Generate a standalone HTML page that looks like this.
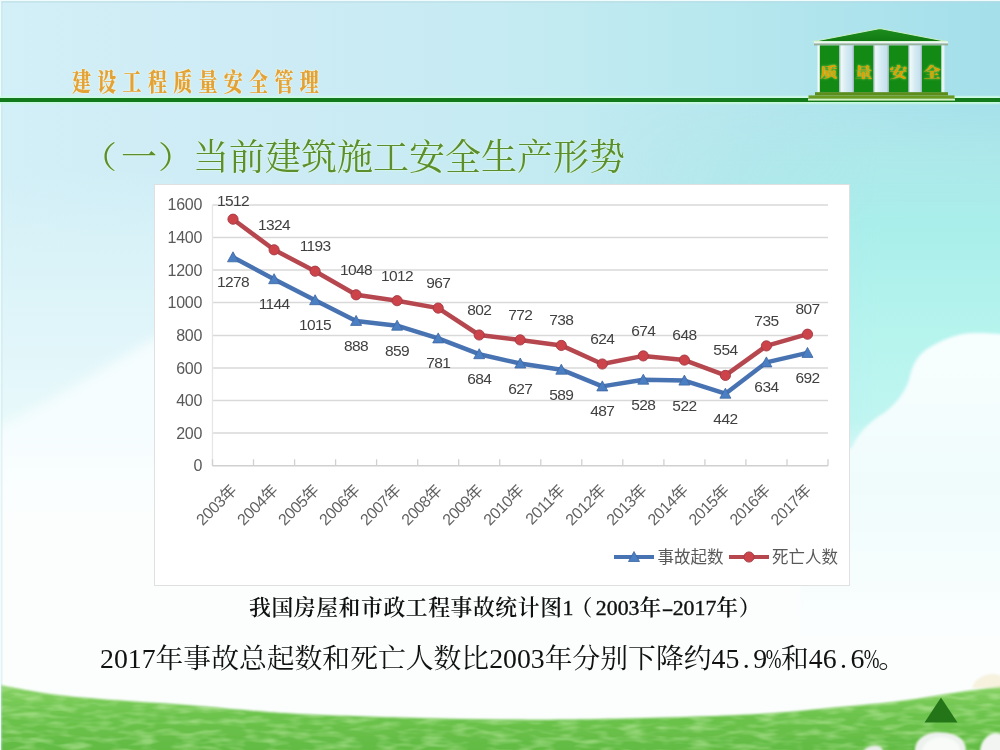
<!DOCTYPE html>
<html><head><meta charset="utf-8">
<style>
*{margin:0;padding:0;box-sizing:border-box}
html,body{width:1000px;height:750px;overflow:hidden;background:#fff}
body{position:relative;font-family:"Liberation Sans","Noto Sans CJK SC",sans-serif}
.abs{position:absolute}
#bg{position:absolute;left:0;top:0}
#hdr{position:absolute;left:72px;top:69.5px;font-family:"Liberation Serif","Noto Serif CJK SC",serif;font-weight:900;font-size:19px;letter-spacing:6.3px;color:#e3a236;white-space:nowrap;transform:scaleY(1.32);transform-origin:0 0;line-height:1;
 text-shadow:0 0 1.5px #fffbe0,0 0 1px #fffde8}
#gline{position:absolute;left:0;top:98px;width:1000px;height:4px;background:#137a1c;box-shadow:0 -2px 1.5px #cffbe6,0 2px 1.5px #c8f8e0}
#title{position:absolute;left:85px;top:140px;font-family:"Liberation Serif","Noto Serif CJK SC",serif;font-size:36px;color:#5b8f2d;white-space:nowrap;line-height:1;text-shadow:0 0 2px #e6ffdc,0 0 1px #f0fff0}
#chartbox{position:absolute;left:154px;top:184px;width:696px;height:402px;background:#fff;border:1.5px solid #e0e0e0}
#chart{position:absolute;left:0;top:0}
.yl{font-family:"Liberation Sans",sans-serif;font-size:16px;fill:#595959;letter-spacing:-0.3px}
.dl{font-family:"Liberation Sans",sans-serif;font-size:15.5px;fill:#404040;letter-spacing:-0.6px}
.xl{font-family:"Liberation Sans","Noto Sans CJK SC",sans-serif;font-size:16px;fill:#626262;letter-spacing:-0.5px}
.lg{font-family:"Liberation Sans","Noto Sans CJK SC",sans-serif;font-size:16.5px;fill:#595959}
#cap{position:absolute;left:249px;top:598px;letter-spacing:0.6px;font-family:"Liberation Serif","Noto Serif CJK SC",serif;font-size:21.8px;font-weight:600;color:#111;white-space:nowrap;line-height:1}
#sum{position:absolute;left:100px;top:644.5px;font-family:"Liberation Serif","Noto Serif CJK SC",serif;font-size:27.8px;color:#111;white-space:nowrap;line-height:1}
.pl{display:inline-block;transform:translateX(-4px) scaleY(0.86)}
.pr{display:inline-block;transform:translateX(1px) scaleY(0.86)}
.h{display:inline-block;width:0.5em;text-align:center;font-weight:400}
#cap .h{-webkit-text-stroke:0.4px #111;letter-spacing:0}
.hy{display:inline-block;font-style:normal;transform:scaleX(1.6)}
#cap .pl2{display:inline-block;transform:translateX(-3px)}
.pc{display:inline-block;width:0.5em;text-align:center;font-weight:400}
.pc i{display:inline-block;font-style:normal;transform:scaleX(0.68);transform-origin:50% 50%;margin:0 -0.25em}
</style></head><body>
<svg id="bg" width="1000" height="750" viewBox="0 0 1000 750">
 <defs>
  <linearGradient id="skyx" x1="0" y1="0" x2="1000" y2="0" gradientUnits="userSpaceOnUse">
   <stop offset="0" stop-color="#d3eff7"/>
   <stop offset="0.3" stop-color="#ccebf5"/>
   <stop offset="0.5" stop-color="#c6ebf2"/>
   <stop offset="0.7" stop-color="#b9e8ef"/>
   <stop offset="0.96" stop-color="#a6e0eb"/>
   <stop offset="1" stop-color="#a5dfea"/>
  </linearGradient>
  <linearGradient id="aquaV" x1="0" y1="95" x2="0" y2="460" gradientUnits="userSpaceOnUse">
   <stop offset="0" stop-color="#aeeaea" stop-opacity="0"/>
   <stop offset="0.17" stop-color="#aeeaea" stop-opacity="0.8"/>
   <stop offset="0.35" stop-color="#a9eeea" stop-opacity="1"/>
   <stop offset="0.65" stop-color="#b6f4ee" stop-opacity="1"/>
   <stop offset="1" stop-color="#c4f6f2" stop-opacity="1"/>
  </linearGradient>
  <linearGradient id="aquaMaskG" x1="600" y1="0" x2="880" y2="0" gradientUnits="userSpaceOnUse">
   <stop offset="0" stop-color="#fff" stop-opacity="0"/>
   <stop offset="1" stop-color="#fff" stop-opacity="1"/>
  </linearGradient>
  <mask id="aquaMask"><rect x="0" y="0" width="1000" height="750" fill="url(#aquaMaskG)"/></mask>
  <linearGradient id="leftV" x1="0" y1="170" x2="0" y2="420" gradientUnits="userSpaceOnUse">
   <stop offset="0" stop-color="#daf3f8" stop-opacity="0"/>
   <stop offset="0.36" stop-color="#daf3f8" stop-opacity="1"/>
   <stop offset="0.64" stop-color="#e0f5fa" stop-opacity="1"/>
   <stop offset="1" stop-color="#e8f9fa" stop-opacity="1"/>
  </linearGradient>
  <linearGradient id="lowV" x1="0" y1="420" x2="0" y2="520" gradientUnits="userSpaceOnUse">
   <stop offset="0" stop-color="#fcfefe" stop-opacity="0"/>
   <stop offset="1" stop-color="#fcfefe" stop-opacity="1"/>
  </linearGradient>
  <linearGradient id="cloudR" x1="0" y1="330" x2="0" y2="640" gradientUnits="userSpaceOnUse">
   <stop offset="0" stop-color="#f8fefe"/>
   <stop offset="0.5" stop-color="#f0fcfc"/>
   <stop offset="0.75" stop-color="#f5fdfd"/>
   <stop offset="1" stop-color="#fcfefe"/>
  </linearGradient>
  <linearGradient id="grass" x1="0" y1="684" x2="0" y2="750" gradientUnits="userSpaceOnUse">
   <stop offset="0" stop-color="#a4dc86"/>
   <stop offset="0.12" stop-color="#80ce5e"/>
   <stop offset="0.45" stop-color="#6ec44e"/>
   <stop offset="1" stop-color="#62bb43"/>
  </linearGradient>
  <filter id="grassTex" x="0" y="0" width="100%" height="100%">
   <feTurbulence type="fractalNoise" baseFrequency="0.045 0.16" numOctaves="2" seed="7" result="n"/>
   <feColorMatrix in="n" type="matrix" values="0 0 0 0 0.60  0 0 0 0 0.88  0 0 0 0 0.44  0 0 0 2.4 -1.0" result="c"/>
   <feComposite in="c" in2="SourceGraphic" operator="in"/>
  </filter>
  <filter id="blur6" x="-20%" y="-20%" width="140%" height="140%"><feGaussianBlur stdDeviation="6"/></filter>
  <filter id="blur2" x="-5%" y="-20%" width="110%" height="140%"><feGaussianBlur stdDeviation="2.2"/></filter>
  <filter id="blur1"><feGaussianBlur stdDeviation="1"/></filter>
  <filter id="blur15" x="-5%" y="-5%" width="110%" height="110%"><feGaussianBlur stdDeviation="1.5"/></filter>
 </defs>
 <rect width="1000" height="750" fill="url(#skyx)"/>
 <rect x="0" y="95" width="1000" height="365" fill="url(#aquaV)" mask="url(#aquaMask)"/>
 <rect x="0" y="170" width="175" height="590" fill="url(#leftV)"/>
 <path d="M175,328 C130,350 70,392 -10,432 L-10,760 L175,760 Z" fill="#f5fdfe" filter="url(#blur6)"/>
 <rect x="0" y="420" width="1000" height="330" fill="url(#lowV)"/>
 <path d="M852,448 C858,432 872,420 884,413 C896,404 905,392 909,380 C912,366 916,357 927,349 C942,340 956,333 975,333 C990,333 1002,334 1010,335 L1010,700 L800,700 L800,470 Z" fill="url(#cloudR)" filter="url(#blur15)"/>
 <path d="M-5,684.5 C-4.2,684.6 -9.2,683.4 0,685 C9.2,686.6 33.3,691.7 50,694 C66.7,696.3 78.3,697.2 100,699 C121.7,700.8 155.0,702.6 180,704.5 C205.0,706.4 230.0,708.9 250,710.5 C270.0,712.1 275.0,712.8 300,714 C325.0,715.2 366.7,716.6 400,717.5 C433.3,718.4 466.7,719.2 500,719.5 C533.3,719.8 558.3,719.8 600,719 C641.7,718.2 710.0,716.5 750,714.5 C790.0,712.5 815.0,709.2 840,707 C865.0,704.8 880.0,703.5 900,701 C920.0,698.5 943.3,694.4 960,692 C976.7,689.6 992.5,687.6 1000,686.5 C1007.5,685.4 1004.2,685.7 1005,685.5 L1005,755 L-5,755 Z" fill="url(#grass)" filter="url(#blur1)"/>
 <path d="M-5,684.5 C-4.2,684.6 -9.2,683.4 0,685 C9.2,686.6 33.3,691.7 50,694 C66.7,696.3 78.3,697.2 100,699 C121.7,700.8 155.0,702.6 180,704.5 C205.0,706.4 230.0,708.9 250,710.5 C270.0,712.1 275.0,712.8 300,714 C325.0,715.2 366.7,716.6 400,717.5 C433.3,718.4 466.7,719.2 500,719.5 C533.3,719.8 558.3,719.8 600,719 C641.7,718.2 710.0,716.5 750,714.5 C790.0,712.5 815.0,709.2 840,707 C865.0,704.8 880.0,703.5 900,701 C920.0,698.5 943.3,694.4 960,692 C976.7,689.6 992.5,687.6 1000,686.5 C1007.5,685.4 1004.2,685.7 1005,685.5 L1005,755 L-5,755 Z" fill="#000" filter="url(#grassTex)" opacity="0.45"/>
 <g filter="url(#blur1)">
  <path d="M915,752 C914,742 922,734 934,732.5 C946,731.5 958,734 963,741 C966,745 966,750 966,752 Z" fill="#eef2ee"/>
  <path d="M922,752 C922,744 930,738 940,737 C950,737 958,741 960,748 L960,752 Z" fill="#f8fbf8"/>
  <path d="M980,752 C980,742 987,734 995,733 C999,733 1002,734 1003,736 L1003,752 Z" fill="#f2f5f2"/>
  <path d="M863,752 C864,748 870,745.5 875,745.5 C880,745.5 883,748 883,752 Z" fill="#e8eee8"/>
  <path d="M972,688 C974,680 982,675 992,674 C998,674 1003,676 1003,680 L1003,688 Z" fill="#efe3b8" opacity="0.45"/>
 </g>
 <polygon points="941,697.5 957.5,722.5 924.5,722.5" fill="#247418"/>
 <rect x="0" y="0" width="1000" height="1.2" fill="#eefcfd"/>
 <rect x="0" y="1.2" width="1000" height="1.3" fill="#b8d6de" opacity="0.6"/>
 <rect x="0" y="0" width="1.2" height="750" fill="#eefcfd"/>
 <rect x="1.2" y="2" width="1.3" height="748" fill="#b8d6de" opacity="0.35"/>
</svg>
<div id="hdr">建设工程质量安全管理</div>
<div id="gline"></div>
<svg class="abs" style="left:800px;top:24px" width="165" height="80" viewBox="800 24 165 80">
 <defs>
  <linearGradient id="shaft" x1="0" y1="0" x2="1" y2="0">
   <stop offset="0" stop-color="#a8bcc0"/><stop offset="0.14" stop-color="#eef8f8"/><stop offset="0.45" stop-color="#d6ecf4"/><stop offset="0.85" stop-color="#c6e0ec"/><stop offset="1" stop-color="#98b0b8"/>
  </linearGradient>
  <linearGradient id="roofg" x1="0" y1="29" x2="0" y2="42" gradientUnits="userSpaceOnUse">
   <stop offset="0" stop-color="#1e8c1e"/><stop offset="1" stop-color="#0f7a12"/>
  </linearGradient>
  <filter id="tglow" x="-30%" y="-30%" width="160%" height="160%"><feGaussianBlur stdDeviation="0.9" result="b"/><feFlood flood-color="#d8f060" flood-opacity="0.9"/><feComposite in2="b" operator="in" result="g"/><feMerge><feMergeNode in="g"/><feMergeNode in="SourceGraphic"/></feMerge></filter>
 </defs>
 <polygon points="880,28.5 947,41.5 813,41.5" fill="url(#roofg)" stroke="#c8f0c8" stroke-width="1.2" stroke-linejoin="round"/>
 <rect x="814" y="41.5" width="134" height="2" fill="#eef6ee"/>
 <rect x="814" y="43.5" width="134" height="2" fill="#9ab09a"/>
 <rect x="817.5" y="45.5" width="2.5" height="47" fill="#f4fafa"/>
 <rect x="819.8" y="45.5" width="19.5" height="47" fill="#128a14"/>
 <rect x="839.3" y="45.5" width="14.7" height="47" fill="url(#shaft)"/>
 <rect x="854" y="45.5" width="19.5" height="47" fill="#128a14"/>
 <rect x="873.5" y="45.5" width="15.5" height="47" fill="url(#shaft)"/>
 <rect x="889" y="45.5" width="19.5" height="47" fill="#128a14"/>
 <rect x="908.5" y="45.5" width="13.5" height="47" fill="url(#shaft)"/>
 <rect x="922" y="45.5" width="19.5" height="47" fill="#128a14"/>
 <rect x="941.5" y="45.5" width="3" height="47" fill="#e8f4f4"/>
 <rect x="815" y="92.2" width="133" height="3.2" fill="#5c8c1a"/>
 <rect x="808.5" y="95.4" width="146" height="3.3" fill="#6b9a22"/>
 <rect x="808" y="98.6" width="147" height="2" fill="#d4f2c4"/>
 <g font-family="'Liberation Serif','Noto Serif CJK SC',serif" font-size="18" font-weight="900" fill="#e0a000" text-anchor="middle" filter="url(#tglow)">
  <text x="829" y="77" transform="translate(0,77) scale(1,0.74) translate(0,-77)">质</text>
  <text x="863.5" y="77" transform="translate(0,77) scale(1,0.74) translate(0,-77)">量</text>
  <text x="898.5" y="77" transform="translate(0,77) scale(1,0.74) translate(0,-77)">安</text>
  <text x="932" y="77" transform="translate(0,77) scale(1,0.74) translate(0,-77)">全</text>
 </g>
</svg>
<div id="title"><span class="pl">（</span>一<span class="pr">）</span>当前建筑施工安全生产形势</div>
<div id="chartbox"></div>
<svg id="chart" width="1000" height="750" viewBox="0 0 1000 750">
<line x1="212.5" y1="433.0" x2="828.0" y2="433.0" stroke="#d9d9d9" stroke-width="1.3"/>
<line x1="212.5" y1="400.5" x2="828.0" y2="400.5" stroke="#d9d9d9" stroke-width="1.3"/>
<line x1="212.5" y1="368.0" x2="828.0" y2="368.0" stroke="#d9d9d9" stroke-width="1.3"/>
<line x1="212.5" y1="335.5" x2="828.0" y2="335.5" stroke="#d9d9d9" stroke-width="1.3"/>
<line x1="212.5" y1="302.5" x2="828.0" y2="302.5" stroke="#d9d9d9" stroke-width="1.3"/>
<line x1="212.5" y1="270.0" x2="828.0" y2="270.0" stroke="#d9d9d9" stroke-width="1.3"/>
<line x1="212.5" y1="237.5" x2="828.0" y2="237.5" stroke="#d9d9d9" stroke-width="1.3"/>
<line x1="212.5" y1="205.0" x2="828.0" y2="205.0" stroke="#d9d9d9" stroke-width="1.3"/>
<line x1="212.5" y1="204.8" x2="212.5" y2="465.8" stroke="#e6e6e6" stroke-width="1.3"/>
<line x1="212.5" y1="465.8" x2="828.0" y2="465.8" stroke="#d0d0d0" stroke-width="1.5"/>
<line x1="212.5" y1="459.3" x2="212.5" y2="465.8" stroke="#d0d0d0" stroke-width="1.3"/>
<line x1="253.5" y1="459.3" x2="253.5" y2="465.8" stroke="#d0d0d0" stroke-width="1.3"/>
<line x1="294.6" y1="459.3" x2="294.6" y2="465.8" stroke="#d0d0d0" stroke-width="1.3"/>
<line x1="335.6" y1="459.3" x2="335.6" y2="465.8" stroke="#d0d0d0" stroke-width="1.3"/>
<line x1="376.6" y1="459.3" x2="376.6" y2="465.8" stroke="#d0d0d0" stroke-width="1.3"/>
<line x1="417.7" y1="459.3" x2="417.7" y2="465.8" stroke="#d0d0d0" stroke-width="1.3"/>
<line x1="458.7" y1="459.3" x2="458.7" y2="465.8" stroke="#d0d0d0" stroke-width="1.3"/>
<line x1="499.7" y1="459.3" x2="499.7" y2="465.8" stroke="#d0d0d0" stroke-width="1.3"/>
<line x1="540.8" y1="459.3" x2="540.8" y2="465.8" stroke="#d0d0d0" stroke-width="1.3"/>
<line x1="581.8" y1="459.3" x2="581.8" y2="465.8" stroke="#d0d0d0" stroke-width="1.3"/>
<line x1="622.8" y1="459.3" x2="622.8" y2="465.8" stroke="#d0d0d0" stroke-width="1.3"/>
<line x1="663.9" y1="459.3" x2="663.9" y2="465.8" stroke="#d0d0d0" stroke-width="1.3"/>
<line x1="704.9" y1="459.3" x2="704.9" y2="465.8" stroke="#d0d0d0" stroke-width="1.3"/>
<line x1="745.9" y1="459.3" x2="745.9" y2="465.8" stroke="#d0d0d0" stroke-width="1.3"/>
<line x1="787.0" y1="459.3" x2="787.0" y2="465.8" stroke="#d0d0d0" stroke-width="1.3"/>
<line x1="828.0" y1="459.3" x2="828.0" y2="465.8" stroke="#d0d0d0" stroke-width="1.3"/>
<text x="202" y="471.4" text-anchor="end" class="yl">0</text>
<text x="202" y="438.8" text-anchor="end" class="yl">200</text>
<text x="202" y="406.2" text-anchor="end" class="yl">400</text>
<text x="202" y="373.5" text-anchor="end" class="yl">600</text>
<text x="202" y="340.9" text-anchor="end" class="yl">800</text>
<text x="202" y="308.3" text-anchor="end" class="yl">1000</text>
<text x="202" y="275.7" text-anchor="end" class="yl">1200</text>
<text x="202" y="243.0" text-anchor="end" class="yl">1400</text>
<text x="202" y="210.4" text-anchor="end" class="yl">1600</text>
<polyline points="233.0,257.3 274.1,279.2 315.1,300.2 356.1,320.9 397.1,325.7 438.2,338.4 479.2,354.2 520.2,363.5 561.3,369.7 602.3,386.4 643.3,379.7 684.4,380.6 725.4,393.7 766.4,362.4 807.5,352.9" fill="none" stroke="#4873b2" stroke-width="4.5" stroke-linejoin="round"/>
<polyline points="233.0,219.2 274.1,249.8 315.1,271.2 356.1,294.8 397.1,300.7 438.2,308.1 479.2,335.0 520.2,339.9 561.3,345.4 602.3,364.0 643.3,355.9 684.4,360.1 725.4,375.4 766.4,345.9 807.5,334.2" fill="none" stroke="#b6474f" stroke-width="4.5" stroke-linejoin="round"/>
<polygon points="227.5,261.8 238.5,261.8 233.0,251.8" fill="#4a7fc4" stroke="#3d64a0" stroke-width="0.8" stroke-linejoin="round"/>
<polygon points="268.6,283.7 279.6,283.7 274.1,273.7" fill="#4a7fc4" stroke="#3d64a0" stroke-width="0.8" stroke-linejoin="round"/>
<polygon points="309.6,304.7 320.6,304.7 315.1,294.7" fill="#4a7fc4" stroke="#3d64a0" stroke-width="0.8" stroke-linejoin="round"/>
<polygon points="350.6,325.4 361.6,325.4 356.1,315.4" fill="#4a7fc4" stroke="#3d64a0" stroke-width="0.8" stroke-linejoin="round"/>
<polygon points="391.6,330.2 402.6,330.2 397.1,320.2" fill="#4a7fc4" stroke="#3d64a0" stroke-width="0.8" stroke-linejoin="round"/>
<polygon points="432.7,342.9 443.7,342.9 438.2,332.9" fill="#4a7fc4" stroke="#3d64a0" stroke-width="0.8" stroke-linejoin="round"/>
<polygon points="473.7,358.7 484.7,358.7 479.2,348.7" fill="#4a7fc4" stroke="#3d64a0" stroke-width="0.8" stroke-linejoin="round"/>
<polygon points="514.8,368.0 525.8,368.0 520.2,358.0" fill="#4a7fc4" stroke="#3d64a0" stroke-width="0.8" stroke-linejoin="round"/>
<polygon points="555.8,374.2 566.8,374.2 561.3,364.2" fill="#4a7fc4" stroke="#3d64a0" stroke-width="0.8" stroke-linejoin="round"/>
<polygon points="596.8,390.9 607.8,390.9 602.3,380.9" fill="#4a7fc4" stroke="#3d64a0" stroke-width="0.8" stroke-linejoin="round"/>
<polygon points="637.8,384.2 648.8,384.2 643.3,374.2" fill="#4a7fc4" stroke="#3d64a0" stroke-width="0.8" stroke-linejoin="round"/>
<polygon points="678.9,385.1 689.9,385.1 684.4,375.1" fill="#4a7fc4" stroke="#3d64a0" stroke-width="0.8" stroke-linejoin="round"/>
<polygon points="719.9,398.2 730.9,398.2 725.4,388.2" fill="#4a7fc4" stroke="#3d64a0" stroke-width="0.8" stroke-linejoin="round"/>
<polygon points="760.9,366.9 771.9,366.9 766.4,356.9" fill="#4a7fc4" stroke="#3d64a0" stroke-width="0.8" stroke-linejoin="round"/>
<polygon points="802.0,357.4 813.0,357.4 807.5,347.4" fill="#4a7fc4" stroke="#3d64a0" stroke-width="0.8" stroke-linejoin="round"/>
<circle cx="233.0" cy="219.2" r="5.1" fill="#cc4349" stroke="#a33a44" stroke-width="0.9"/>
<circle cx="274.1" cy="249.8" r="5.1" fill="#cc4349" stroke="#a33a44" stroke-width="0.9"/>
<circle cx="315.1" cy="271.2" r="5.1" fill="#cc4349" stroke="#a33a44" stroke-width="0.9"/>
<circle cx="356.1" cy="294.8" r="5.1" fill="#cc4349" stroke="#a33a44" stroke-width="0.9"/>
<circle cx="397.1" cy="300.7" r="5.1" fill="#cc4349" stroke="#a33a44" stroke-width="0.9"/>
<circle cx="438.2" cy="308.1" r="5.1" fill="#cc4349" stroke="#a33a44" stroke-width="0.9"/>
<circle cx="479.2" cy="335.0" r="5.1" fill="#cc4349" stroke="#a33a44" stroke-width="0.9"/>
<circle cx="520.2" cy="339.9" r="5.1" fill="#cc4349" stroke="#a33a44" stroke-width="0.9"/>
<circle cx="561.3" cy="345.4" r="5.1" fill="#cc4349" stroke="#a33a44" stroke-width="0.9"/>
<circle cx="602.3" cy="364.0" r="5.1" fill="#cc4349" stroke="#a33a44" stroke-width="0.9"/>
<circle cx="643.3" cy="355.9" r="5.1" fill="#cc4349" stroke="#a33a44" stroke-width="0.9"/>
<circle cx="684.4" cy="360.1" r="5.1" fill="#cc4349" stroke="#a33a44" stroke-width="0.9"/>
<circle cx="725.4" cy="375.4" r="5.1" fill="#cc4349" stroke="#a33a44" stroke-width="0.9"/>
<circle cx="766.4" cy="345.9" r="5.1" fill="#cc4349" stroke="#a33a44" stroke-width="0.9"/>
<circle cx="807.5" cy="334.2" r="5.1" fill="#cc4349" stroke="#a33a44" stroke-width="0.9"/>
<text x="233.0" y="205.5" text-anchor="middle" class="dl">1512</text>
<text x="274.1" y="229.8" text-anchor="middle" class="dl">1324</text>
<text x="315.1" y="251.2" text-anchor="middle" class="dl">1193</text>
<text x="356.1" y="274.8" text-anchor="middle" class="dl">1048</text>
<text x="397.1" y="280.7" text-anchor="middle" class="dl">1012</text>
<text x="438.2" y="288.1" text-anchor="middle" class="dl">967</text>
<text x="479.2" y="315.0" text-anchor="middle" class="dl">802</text>
<text x="520.2" y="319.9" text-anchor="middle" class="dl">772</text>
<text x="561.3" y="325.4" text-anchor="middle" class="dl">738</text>
<text x="602.3" y="344.0" text-anchor="middle" class="dl">624</text>
<text x="643.3" y="335.9" text-anchor="middle" class="dl">674</text>
<text x="684.4" y="340.1" text-anchor="middle" class="dl">648</text>
<text x="725.4" y="355.4" text-anchor="middle" class="dl">554</text>
<text x="766.4" y="325.9" text-anchor="middle" class="dl">735</text>
<text x="807.5" y="314.2" text-anchor="middle" class="dl">807</text>
<text x="233.0" y="287.3" text-anchor="middle" class="dl">1278</text>
<text x="274.1" y="309.2" text-anchor="middle" class="dl">1144</text>
<text x="315.1" y="330.2" text-anchor="middle" class="dl">1015</text>
<text x="356.1" y="350.9" text-anchor="middle" class="dl">888</text>
<text x="397.1" y="355.7" text-anchor="middle" class="dl">859</text>
<text x="438.2" y="368.4" text-anchor="middle" class="dl">781</text>
<text x="479.2" y="384.2" text-anchor="middle" class="dl">684</text>
<text x="520.2" y="393.5" text-anchor="middle" class="dl">627</text>
<text x="561.3" y="399.7" text-anchor="middle" class="dl">589</text>
<text x="602.3" y="416.4" text-anchor="middle" class="dl">487</text>
<text x="643.3" y="409.7" text-anchor="middle" class="dl">528</text>
<text x="684.4" y="410.6" text-anchor="middle" class="dl">522</text>
<text x="725.4" y="423.7" text-anchor="middle" class="dl">442</text>
<text x="766.4" y="392.4" text-anchor="middle" class="dl">634</text>
<text x="807.5" y="382.9" text-anchor="middle" class="dl">692</text>
<text transform="translate(237.5,491.5) rotate(-45)" text-anchor="end" class="xl">2003年</text>
<text transform="translate(278.6,491.5) rotate(-45)" text-anchor="end" class="xl">2004年</text>
<text transform="translate(319.6,491.5) rotate(-45)" text-anchor="end" class="xl">2005年</text>
<text transform="translate(360.6,491.5) rotate(-45)" text-anchor="end" class="xl">2006年</text>
<text transform="translate(401.6,491.5) rotate(-45)" text-anchor="end" class="xl">2007年</text>
<text transform="translate(442.7,491.5) rotate(-45)" text-anchor="end" class="xl">2008年</text>
<text transform="translate(483.7,491.5) rotate(-45)" text-anchor="end" class="xl">2009年</text>
<text transform="translate(524.8,491.5) rotate(-45)" text-anchor="end" class="xl">2010年</text>
<text transform="translate(565.8,491.5) rotate(-45)" text-anchor="end" class="xl">2011年</text>
<text transform="translate(606.8,491.5) rotate(-45)" text-anchor="end" class="xl">2012年</text>
<text transform="translate(647.8,491.5) rotate(-45)" text-anchor="end" class="xl">2013年</text>
<text transform="translate(688.9,491.5) rotate(-45)" text-anchor="end" class="xl">2014年</text>
<text transform="translate(729.9,491.5) rotate(-45)" text-anchor="end" class="xl">2015年</text>
<text transform="translate(770.9,491.5) rotate(-45)" text-anchor="end" class="xl">2016年</text>
<text transform="translate(812.0,491.5) rotate(-45)" text-anchor="end" class="xl">2017年</text>
<line x1="614" y1="557" x2="654" y2="557" stroke="#4873b2" stroke-width="4"/>
<polygon points="628.5,561.5 639.5,561.5 634,551.5" fill="#4a7fc4" stroke="#3d64a0" stroke-width="0.8" stroke-linejoin="round"/>
<text x="657.5" y="563" class="lg">事故起数</text>
<line x1="729" y1="557" x2="769" y2="557" stroke="#b6474f" stroke-width="4"/>
<circle cx="749" cy="557" r="5.1" fill="#cc4349" stroke="#a33a44" stroke-width="0.9"/>
<text x="772" y="563" class="lg">死亡人数</text>
</svg>
<div id="cap">我国房屋和市政工程事故统计图<span class="h">1</span><span class="pl2">（</span><span class="h">2</span><span class="h">0</span><span class="h">0</span><span class="h">3</span>年<span class="h"><i class="hy">-</i></span><span class="h">2</span><span class="h">0</span><span class="h">1</span><span class="h">7</span>年）</div>
<div id="sum"><span class="h">2</span><span class="h">0</span><span class="h">1</span><span class="h">7</span>年事故总起数和死亡人数比<span class="h">2</span><span class="h">0</span><span class="h">0</span><span class="h">3</span>年分别下降约<span class="h">4</span><span class="h">5</span><span class="h">.</span><span class="h">9</span><span class="pc"><i>%</i></span>和<span class="h">4</span><span class="h">6</span><span class="h">.</span><span class="h">6</span><span class="pc"><i>%</i></span>。</div>
</body></html>
